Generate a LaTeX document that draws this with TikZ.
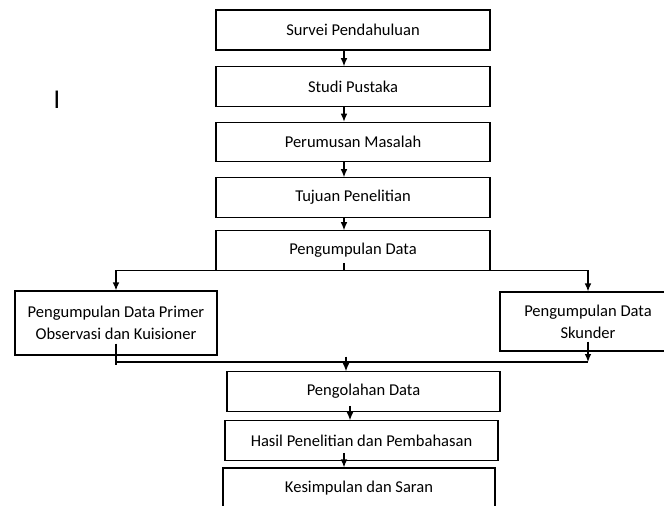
\documentclass[tikz,border=0pt]{standalone}
\usepackage{fontspec}
\setmainfont{Carlito}
\newfontfamily\arialfont{Liberation Sans}
\usetikzlibrary{arrows.meta, positioning}
\tikzstyle{stepbox} = [rectangle, draw=black, line width=0.9pt, minimum width=205.5pt, minimum height=29.5pt, inner sep=0pt, align=center, font=\fontsize{12.4}{16.5}\selectfont]
\tikzstyle{arrow} = [line width=0.9pt, -{Latex[length=6pt, width=5pt]}]
\tikzstyle{line} = [line width=0.9pt]

\begin{document}
\begin{tikzpicture}[x=0.75pt, y=-0.75pt]
            \clip (0,0) rectangle (664,506);
            \coordinate (col) at (344,0);
            \coordinate (col2) at (350,0);
            \coordinate (join) at (346,362);
            \node[font=\arialfont\fontsize{19}{19}\selectfont] (cursor) at (57,100) {I};
            \node[stepbox, minimum height=30pt] (survei) at (353,30) {Survei Pendahuluan};
            \node[stepbox] (studi) at (353,86.5) {Studi Pustaka};
            \node[stepbox] (rumusan) at (353,142) {Perumusan Masalah};
            \node[stepbox] (tujuan) at (353,197.5) {Tujuan Penelitian};
            \node[stepbox] (kumpul) at (353,250.5) {Pengumpulan Data};
            \node[stepbox, minimum width=151.5pt, minimum height=48pt] (primer) at (116,323) {Pengumpulan Data Primer\\Observasi dan Kuisioner};
            \node[stepbox, minimum width=132pt, minimum height=44.25pt] (skunder) at (588,321.5) {Pengumpulan Data\\Skunder};
            \node[stepbox, minimum width=204.75pt] (olah) at (363.5,391.5) {Pengolahan Data};
            \node[stepbox, minimum width=204.75pt] (hasil) at (361.5,440.5) {Hasil Penelitian dan Pembahasan};
            \node[stepbox, minimum width=204pt, minimum height=30pt] (simpul) at (359,488) {Kesimpulan dan Saran};
            \draw[arrow] (survei.south -| col) -- (studi.north -| col);
            \draw[arrow] (studi.south -| col) -- (rumusan.north -| col);
            \draw[arrow] (rumusan.south -| col) -- (tujuan.north -| col);
            \draw[arrow] (tujuan.south -| col) -- (kumpul.north -| col);
            \draw[line] ([yshift=6pt]kumpul.south -| col) -- (kumpul.south -| col);
            \draw[arrow] (kumpul.south west) -| (primer.north);
            \draw[arrow] (kumpul.south east) -| (skunder.north);
            \draw[line] ([yshift=9pt]primer.south) -- ([yshift=-2pt]primer.south |- join);
            \draw[line] (primer.south |- join) -- (skunder.south |- join);
            \draw[arrow] ([yshift=7.5pt]skunder.south) -- (skunder.south |- join);
            \draw[arrow] ([yshift=4pt]join) -- (olah.north -| join);
            \draw[arrow] ([yshift=4.5pt]olah.south -| col2) -- (hasil.north -| col2);
            \draw[arrow] ([yshift=6pt]hasil.south -| col) -- (simpul.north -| col);
        \end{tikzpicture}
\end{document}
